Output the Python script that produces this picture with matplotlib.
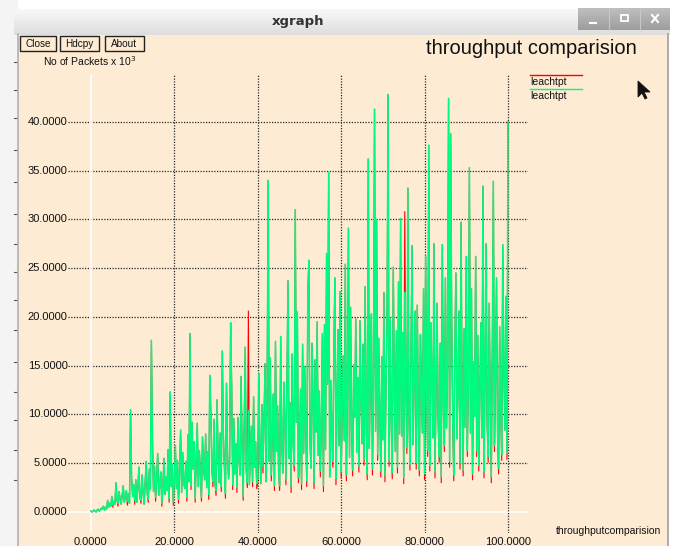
import numpy as np
import matplotlib
matplotlib.use("Agg")
import matplotlib.pyplot as plt
from matplotlib.patches import Rectangle, Polygon

plt.rcParams["font.family"] = ["Liberation Sans", "DejaVu Sans"]

# ── Data (one sample every 0.25 time units) ───
green_tpt = [
    0.1, 0.0, 0.1, 0.2, 0.1, 0.0, 0.2, 0.3, 0.1, 0.2, 0.4, 0.3, 0.6, 0.2, 0.5, 0.3, 1.2, 0.5, 0.9, 0.6,
    1.6, 0.7, 1.1, 0.8, 3.0, 1.2, 0.9, 2.1, 1.3, 0.8, 1.8, 2.7, 1.0, 1.6, 2.2, 1.1, 1.9, 0.9, 10.5, 3.5,
    1.6, 2.8, 1.2, 3.3, 1.0, 2.4, 4.6, 1.5, 1.2, 3.8, 2.0, 0.8, 2.9, 5.2, 1.9, 1.3, 4.4, 2.3, 17.6, 7.5,
    2.1, 4.7, 1.5, 3.2, 6.0, 1.7, 2.8, 4.1, 0.9, 2.5, 5.5, 1.8, 3.6, 2.2, 6.4, 1.4, 12.3, 2.6, 4.9, 1.0,
    3.3, 6.8, 2.4, 5.3, 1.3, 4.0, 8.4, 2.0, 6.1, 3.0, 2.4, 5.2, 1.5, 7.9, 3.1, 18.3, 2.7, 9.2, 4.4, 7.2,
    1.4, 5.6, 9.1, 2.6, 6.3, 3.9, 1.5, 7.7, 4.8, 3.3, 8.0, 2.5, 6.2, 1.8, 14.0, 10.2, 4.4, 3.1, 9.5, 2.9,
    2.2, 11.5, 5.4, 3.0, 8.1, 2.6, 16.5, 7.9, 4.7, 1.9, 13.2, 6.0, 3.4, 5.1, 19.4, 12.8, 2.8, 9.6, 3.9, 7.0,
    2.5, 9.7, 5.3, 3.8, 13.9, 6.6, 1.6, 8.8, 16.9, 4.2, 3.0, 10.4, 2.8, 6.5, 8.8, 3.1, 11.8, 4.6, 7.2, 2.9,
    3.5, 14.2, 6.8, 2.9, 11.0, 4.6, 9.3, 15.2, 3.1, 12.7, 34.0, 5.2, 15.8, 3.8, 8.4, 12.1, 2.7, 17.5, 6.2, 10.9,
    4.1, 2.7, 18.0, 7.4, 4.0, 13.3, 9.8, 3.3, 13.6, 23.7, 5.5, 11.2, 2.6, 16.2, 7.1, 4.8, 31.0, 9.2, 20.5, 3.5,
    4.8, 12.6, 2.9, 17.2, 6.0, 14.9, 9.3, 3.2, 22.4, 25.8, 7.7, 4.5, 17.3, 11.0, 3.0, 15.6, 8.2, 19.5, 5.8, 12.4,
    4.2, 9.6, 18.3, 2.7, 19.2, 6.4, 26.5, 13.1, 34.8, 3.6, 13.5, 8.8, 5.2, 16.7, 24.0, 3.4, 11.9, 18.7, 6.8, 22.6,
    4.1, 10.5, 16.0, 7.3, 25.4, 3.8, 12.2, 29.1, 5.6, 21.0, 8.9, 4.3, 15.1, 9.7, 19.8, 6.1, 13.8, 4.7, 19.6, 11.5,
    7.0, 17.2, 5.4, 23.1, 9.0, 3.9, 36.2, 6.5, 14.2, 20.3, 4.4, 12.7, 41.3, 8.3, 30.0, 5.9, 17.8, 10.6, 4.2, 15.9,
    7.4, 22.5, 3.7, 13.0, 19.1, 42.8, 5.3, 19.9, 9.4, 4.0, 25.1, 12.3, 6.2, 18.6, 4.6, 23.6, 8.0, 30.1, 7.8, 18.4,
    3.5, 22.5, 13.9, 6.6, 33.2, 10.1, 4.9, 16.8, 27.3, 6.9, 13.4, 20.6, 5.0, 21.2, 9.9, 4.3, 18.2, 12.6, 8.1, 22.9,
    3.9, 26.2, 11.7, 6.3, 37.6, 4.8, 19.4, 14.3, 7.6, 27.5, 4.1, 12.9, 21.4, 9.5, 5.7, 17.3, 3.6, 27.4, 10.8, 6.8,
    24.0, 8.6, 14.8, 42.4, 5.2, 38.8, 20.1, 9.3, 3.8, 16.5, 24.5, 7.5, 12.2, 20.6, 5.0, 29.7, 11.4, 4.3, 18.8, 8.7,
    26.2, 6.3, 13.6, 35.3, 8.1, 22.9, 3.9, 15.4, 9.8, 26.2, 6.3, 18.1, 4.8, 12.0, 19.4, 7.6, 33.4, 4.1, 14.7, 27.5,
    9.2, 5.7, 21.4, 11.3, 3.6, 17.6, 33.9, 6.8, 13.2, 24.0, 8.0, 4.5, 19.0, 10.7, 5.9, 27.4, 15.3, 8.4, 22.1, 6.0,
    40.0,
]
red_tpt = [
    0.1, 0.0, 0.1, 0.2, 0.1, 0.0, 0.2, 0.3, 0.1, 0.2, 0.4, 0.3, 0.6, 0.2, 0.5, 0.3, 1.2, 0.5, 0.9, 0.6,
    1.6, 0.5, 1.1, 0.8, 3.0, 1.2, 0.6, 2.1, 1.3, 0.8, 1.8, 2.7, 1.0, 1.6, 2.2, 0.7, 1.9, 0.9, 10.5, 3.5,
    1.6, 2.8, 0.8, 3.3, 1.0, 2.4, 4.6, 1.5, 0.9, 3.8, 2.0, 0.8, 2.9, 5.2, 1.9, 1.0, 4.4, 2.3, 17.6, 7.5,
    2.1, 4.7, 1.1, 3.2, 6.0, 1.7, 2.8, 4.1, 0.6, 2.5, 5.5, 1.8, 3.6, 2.2, 6.4, 1.0, 12.3, 2.6, 4.9, 0.7,
    3.3, 6.8, 2.4, 5.3, 0.9, 4.0, 8.4, 2.0, 6.1, 3.0, 2.4, 5.2, 1.1, 7.9, 3.1, 18.3, 2.3, 9.2, 4.4, 7.2,
    1.0, 5.6, 9.1, 2.6, 6.3, 3.9, 1.1, 7.7, 4.8, 3.3, 8.0, 2.5, 6.2, 1.3, 14.0, 10.2, 4.4, 2.6, 9.5, 2.9,
    1.7, 11.5, 5.4, 3.0, 8.1, 2.1, 16.5, 7.9, 4.7, 1.4, 13.2, 6.0, 3.4, 5.1, 19.4, 12.8, 2.3, 9.6, 3.9, 7.0,
    2.0, 9.7, 5.3, 3.8, 13.9, 6.6, 1.2, 8.8, 16.9, 4.2, 2.5, 20.6, 2.8, 6.5, 8.8, 2.6, 11.8, 4.6, 7.2, 2.4,
    3.0, 14.2, 6.8, 2.9, 11.0, 4.0, 9.3, 15.2, 3.1, 12.7, 34.0, 5.2, 15.8, 3.2, 8.4, 12.1, 2.2, 17.5, 6.2, 10.9,
    4.1, 2.2, 18.0, 7.4, 4.0, 13.3, 9.8, 2.8, 13.6, 23.7, 5.5, 11.2, 2.0, 16.2, 7.1, 4.2, 31.0, 9.2, 20.5, 3.0,
    4.8, 12.6, 2.3, 17.2, 6.0, 14.9, 9.3, 2.6, 22.4, 25.8, 7.7, 4.5, 17.3, 11.0, 2.4, 15.6, 8.2, 19.5, 5.8, 12.4,
    3.6, 9.6, 18.3, 2.1, 19.2, 6.4, 26.5, 13.1, 34.8, 3.6, 13.5, 8.8, 4.6, 16.7, 24.0, 2.8, 11.9, 18.7, 6.8, 22.6,
    3.5, 10.5, 16.0, 7.3, 25.4, 3.2, 12.2, 29.1, 5.6, 21.0, 8.9, 3.7, 15.1, 9.7, 19.8, 9.0, 13.8, 4.1, 19.6, 11.5,
    7.0, 17.2, 4.8, 23.1, 9.0, 3.3, 36.2, 6.5, 14.2, 20.3, 3.8, 12.7, 41.3, 8.3, 30.0, 5.3, 17.8, 10.6, 3.6, 15.9,
    7.4, 22.5, 3.1, 13.0, 19.1, 42.8, 4.7, 19.9, 9.4, 3.4, 25.1, 12.3, 6.2, 18.6, 4.0, 23.6, 8.0, 30.1, 7.8, 18.4,
    2.9, 30.8, 13.9, 6.0, 33.2, 10.1, 4.3, 16.8, 27.3, 6.9, 13.4, 20.6, 4.4, 21.2, 9.9, 3.7, 18.2, 12.6, 8.1, 22.9,
    3.3, 26.2, 11.7, 5.7, 37.6, 4.2, 19.4, 14.3, 7.6, 27.5, 3.5, 12.9, 21.4, 9.5, 5.1, 17.3, 3.0, 27.4, 10.8, 6.2,
    24.0, 8.6, 14.8, 42.4, 4.6, 38.8, 20.1, 9.3, 3.2, 16.5, 24.5, 7.5, 12.2, 20.6, 4.4, 29.7, 11.4, 3.7, 18.8, 8.7,
    26.2, 5.7, 13.6, 35.3, 8.1, 22.9, 3.3, 15.4, 9.8, 26.2, 5.7, 18.1, 4.2, 12.0, 19.4, 7.6, 33.4, 3.5, 14.7, 27.5,
    9.2, 5.1, 21.4, 11.3, 3.0, 17.6, 33.9, 6.2, 13.2, 24.0, 8.0, 3.9, 19.0, 10.7, 5.3, 27.4, 15.3, 8.4, 22.1, 5.4,
    40.0,
]
time_pts = np.arange(len(green_tpt)) * 0.25

x_ticks = [0, 20, 40, 60, 80, 100]
y_ticks = [0, 5, 10, 15, 20, 25, 30, 35, 40]
series_names = ["leachtpt", "leachtpt"]
series_colors = ["#ff0000", "#00fa80"]

PEACH = "#fdebd3"
W, H = 683, 546

fig = plt.figure(figsize=(W / 100, H / 100), dpi=100)
fig.patch.set_facecolor("white")

# ── window chrome, drawn in pixel coordinates ────────────────────────────────
bg = fig.add_axes([0, 0, 1, 1])
bg.set_xlim(0, W); bg.set_ylim(H, 0); bg.axis("off")

bg.add_patch(Rectangle((0, 0), 18, H, color="#f4f4f4", lw=0))
for yy in [62, 90, 118, 150, 182, 214, 244, 272, 300, 330, 362, 392, 420, 450, 480]:
    bg.plot([14, 17], [yy, yy], color="#555", lw=0.8)
bg.plot([18, 18], [34, H], color="#b0b0b0", lw=1.2)
bg.add_patch(Rectangle((18, 34), 650, H - 34, color=PEACH, lw=0))
bg.plot([668, 668], [34, H], color="#a0a0a0", lw=1.2)

# title bar
for i, c in enumerate(np.linspace(0.97, 0.87, 13)):
    bg.add_patch(Rectangle((14, 9 + i * 2), 656, 2.2, color=(c, c, c), lw=0))
bg.text(298, 22, "xgraph", fontsize=9.5, fontweight="bold", color="#333",
        ha="center", va="center", family=["DejaVu Sans"])
for i, c in enumerate(np.linspace(0.74, 0.62, 11)):
    bg.add_patch(Rectangle((578, 8 + i * 2), 92, 2.2, color=(c, c, c), lw=0))
for xx in [609, 640]:
    bg.plot([xx, xx], [9, 30], color="#c8c8c8", lw=0.8)
bg.plot([590, 596], [23, 23], color="white", lw=1.5)
bg.add_patch(Rectangle((621, 15), 7, 6, fill=False, ec="white", lw=1.3))
bg.plot([652, 658], [15, 22], color="white", lw=1.5)
bg.plot([652, 658], [22, 15], color="white", lw=1.5)

# buttons
for x0, x1, lbl in [(20, 56, "Close"), (60, 99, "Hdcpy"), (105, 144, "About")]:
    bg.add_patch(Rectangle((x0, 36), x1 - x0, 15, fill=False, ec="#222", lw=1.0))
    bg.text((x0 + x1) / 2, 44, lbl, fontsize=7.2, ha="center", va="center",
            color="#111")

bg.text(43, 61, "No of Packets x 10$^3$", fontsize=7.5, ha="left",
        va="center", color="#111")
bg.text(426, 49, "throughput comparision", fontsize=14.5, ha="left",
        va="center", color="#111")
bg.text(556, 531, "throughputcomparision", fontsize=7.5, ha="left",
        va="center", color="#111")

# legend
for k, (nm, col) in enumerate(zip(series_names, series_colors)):
    ly = 75 + k * 14
    bg.plot([530, 582], [ly, ly], color=col, lw=1.0)
    bg.text(530, ly + 7, nm, fontsize=7.5, ha="left", va="center", color="#111")

# mouse cursor
bg.add_patch(Polygon([(638, 81), (638, 97), (642, 93), (645, 99), (647, 98),
                      (644, 92), (650, 92)], closed=True, fc="#111", ec="#111",
                     lw=0.6))

# ── data axes ────────────────────────────────────────────────────────────────
ax = fig.add_axes([68 / W, (H - 533) / H, (528 - 68) / W, (533 - 74) / H])
ax.set_facecolor("none")
ax.set_xlim(-5.5, 104.8)
ax.set_ylim(-2.15, 44.9)
for s in ax.spines.values():
    s.set_visible(False)
ax.set_xticks([]); ax.set_yticks([])

for yv in y_ticks:
    if yv == 0:
        ax.axhline(yv, color="white", lw=1.2, zorder=1)
    else:
        ax.axhline(yv, color="#2a2a2a", lw=0.9, ls=(0, (1, 1.2)), zorder=1)
    ax.text(-5.6, yv, f"{yv:.4f}", fontsize=8, ha="right", va="center",
            color="#111", clip_on=False)
for xv in x_ticks:
    if xv == 0:
        ax.axvline(xv, color="white", lw=1.2, zorder=1)
    else:
        ax.axvline(xv, color="#2a2a2a", lw=0.9, ls=(0, (1, 1.2)), zorder=1)
    ax.text(xv, -2.55, f"{xv:.4f}", fontsize=8, ha="center", va="top",
            color="#111", clip_on=False)

# red set first, green drawn over it (xgraph order)
ax.plot(time_pts, red_tpt, color=series_colors[0], lw=0.8, zorder=2)
ax.plot(time_pts, green_tpt, color=series_colors[1], lw=1.1, zorder=3)

fig.savefig("out.png", dpi=100, facecolor=fig.get_facecolor())
plt.close(fig)
